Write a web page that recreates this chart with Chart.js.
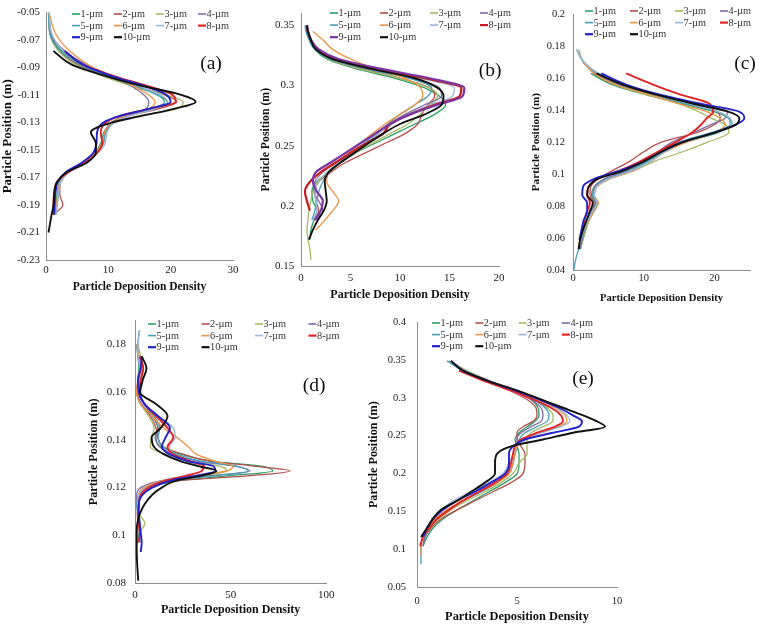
<!DOCTYPE html>
<html>
<head>
<meta charset="utf-8">
<script src="https://cdn.jsdelivr.net/npm/chart.js@4.4.1/dist/chart.umd.min.js"></script>
<style>
  body { margin: 0; background: #fff; }
  #wrap { position: relative; width: 760px; height: 625px; overflow: hidden; background: #fff; }
  #wrap canvas { position: absolute; }
</style>
</head>
<body>
<div id="wrap">
  <canvas id="chart_a" width="250" height="305" style="left:0px;top:0px"></canvas>
  <canvas id="chart_c" width="255" height="305" style="left:505px;top:0px"></canvas>
  <canvas id="chart_b" width="265" height="305" style="left:250px;top:0px"></canvas>
  <canvas id="chart_d" width="260" height="320" style="left:80px;top:305px"></canvas>
  <canvas id="chart_e" width="300" height="320" style="left:340px;top:305px"></canvas>
</div>
<script>
// ---- data ----
const series_labels = ['1-µm', '2-µm', '3-µm', '4-µm', '5-µm', '6-µm', '7-µm', '8-µm', '9-µm', '10-µm'];

// (a) particle position (m), shared by the series of panel a
const pos_a = [-0.05, -0.065, -0.078, -0.088, -0.096, -0.103, -0.109, -0.115, -0.12, -0.125, -0.13,
               -0.137, -0.145, -0.152, -0.159, -0.166, -0.173, -0.182, -0.19, -0.197, -0.21];
const dens_a1 = [0.5, 0.7, 2.6, 5.8, 10, 14, 17.5, 19.5, 17, 13, 10.5, 9.3, 8.8, 7.8, 5.8, 3.4, 2.2, 1.8, 1.6, null, null];
const dens_a2 = [null, 0.6, 2.2, 5.2, 9.5, 14, 18.5, 21, 18, 13.5, 10.8, 9.5, 9.2, 8, 6, 3.6, 2.3, 2.2, 2.7, 1.2, null];
const dens_a3 = [0.4, 0.6, 2, 4.8, 9, 13.5, 18.5, 22, 21, 15, 11, 9.6, 9.2, 8.1, 6, 3.5, 2.3, 2, 1.8, 1.6, null];
const dens_a4 = [0.5, 0.8, 3, 6.5, 10.5, 13.5, 15.5, 16.5, 16, 12.5, 10.5, 9.4, 9, 8, 6, 3.6, 2.4, 2, 1.7, 1.5, null];
const dens_a5 = [0.4, 0.6, 2.3, 5.5, 9.8, 14, 17.5, 19, 17, 13, 10.8, 9.6, 9.2, 8.1, 6, 3.5, 2.2, 1.9, 1.7, 1.5, null];
const dens_a6 = [0.5, 1.5, 3.8, 6.8, 10.5, 13.8, 16.2, 17.5, 16.5, 12.8, 10.6, 9.4, 9, 7.8, 5.8, 3.4, 2.3, 1.9, 1.7, 1.5, null];
const dens_a7 = [0.5, 0.9, 2.8, 6, 10.3, 14.5, 18, 19.5, 17.5, 13.5, 11, 9.8, 9.5, 8.3, 6.2, 3.7, 2.4, 2, 1.8, 1.6, null];
const dens_a8 = [null, null, 3, 6, 10.8, 16, 20, 20.8, 16.5, 12, 9.6, 8.8, 9, 8.2, 6.3, 3.6, 1.8, 1.3, 1.2, 1.1, null];
const dens_a9 = [null, null, 3, 6, 10.5, 15.5, 19, 20, 16.5, 12, 9.2, 8.2, 8.1, 7.6, 5.8, 3.2, 1.9, 1.5, 1.4, 1.3, null];
const dens_a10 = [null, null, 1.2, 4.2, 9.5, 15, 21, 24, 20.5, 15.5, 10.5, 7.2, 8, 8, 6.6, 3.4, 1.8, 1.3, 1.2, 0.9, 0.4];
const x_ticks_a = [0, 10, 20, 30];
const y_ticks_a = [-0.23, -0.21, -0.19, -0.17, -0.15, -0.13, -0.11, -0.09, -0.07, -0.05];

// (b)
const pos_b = [0.35, 0.345, 0.338, 0.33, 0.322, 0.314, 0.306, 0.298, 0.291, 0.284, 0.276, 0.268, 0.26,
               0.252, 0.244, 0.236, 0.228, 0.22, 0.212, 0.204, 0.196, 0.188, 0.18, 0.172, 0.164, 0.155];
const dens_b1 = [null, 0.6, 0.9, 1.4, 2.6, 5.5, 9.5, 12.5, 14, 14.6, 13.5, 11.5, 9.5, 7.5, 5.5, 4, 2.8, 1.6, 1.1, 1.2, 1.6, 1.3, 1, 0.9, null, null];
const dens_b2 = [null, 0.7, 1, 1.6, 3, 6, 10, 13, 13.5, 12.8, 12.2, 11.8, 10.5, 8.5, 6.5, 4.5, 3, 1.8, 1.4, 1.5, 1.8, 1.3, null, null, null, null];
const dens_b3 = [0.5, 0.7, 1, 1.5, 2.8, 5.8, 10, 13, 13.8, 13, 12, 10.8, 9, 7.2, 5.5, 4, 2.7, 1.7, 1.2, 1, 0.8, 0.7, 0.6, 0.7, 0.9, 1];
const dens_b4 = [0.5, 0.6, 0.9, 1.5, 3, 6.5, 11, 14, 14.2, 12.5, 10.5, 9, 7.8, 6.5, 5, 3.5, 2.2, 1.4, 1.3, 1.8, 2.2, 1.5, null, null, null, null];
const dens_b5 = [0.4, 0.5, 0.8, 1.4, 3, 6.5, 11, 13.2, 12.8, 11.5, 10, 8.8, 7.6, 6.4, 5, 3.8, 2.8, 2.2, 1.8, 1.6, 1.4, 1.1, null, null, null, null];
const dens_b6 = [null, 1.2, 2.2, 3.2, 5, 7.5, 10.5, 12.1, 12.3, 11.5, 10, 8.5, 7.2, 6, 4.8, 3.6, 2.8, 2.6, 3.2, 3.8, 3.2, 2.4, 1.5, null, null, null];
const dens_b7 = [0.6, 0.7, 1, 1.6, 3.2, 7, 12, 15.5, 15.3, 13, 10.8, 9.2, 7.8, 6.5, 5.2, 3.8, 2.6, 1.8, 1.4, 1.5, 1.6, 1.2, null, null, null, null];
const dens_b8 = [0.6, 0.7, 1, 1.7, 3.5, 7.5, 12.5, 16.2, 16, 13.5, 11, 9, 8.3, 6.6, 5, 3.5, 2, 0.9, 0.4, 0.6, 0.9, null, null, null, null, null];
const dens_b9 = [0.6, 0.7, 1, 1.8, 3.8, 8, 13, 16.5, 16.3, 13.8, 11, 9, 7.5, 6, 4.5, 3, 1.5, 1.2, 1.6, 2.2, 2, 1.4, null, null, null, null];
const dens_b10 = [0.6, 0.7, 1, 1.5, 3.2, 7, 11.5, 13.8, 14.4, 14.2, 12.5, 10, 8.3, 6.8, 5.4, 4, 2.8, 2.4, 2.5, 2.6, 2.3, 1.7, 1.2, 0.8, null, null];
const x_ticks_b = [0, 5, 10, 15, 20];
const y_ticks_b = [0.15, 0.2, 0.25, 0.3, 0.35];

// (c)
const pos_c = [0.178, 0.17, 0.163, 0.156, 0.15, 0.144, 0.139, 0.135, 0.131, 0.126, 0.12, 0.114, 0.108,
               0.102, 0.097, 0.092, 0.087, 0.082, 0.077, 0.071, 0.065, 0.059, 0.053, 0.047, 0.04];
const dens_c1 = [null, null, 2.5, 5.5, 10, 15.5, 20, 22, 22.5, 20.5, 16, 13, 10.5, 7.5, 4.5, 3, 2.6, 3.2, 2.8, 2.2, 1.8, 1.4, 1, null, null];
const dens_c2 = [null, null, 2.8, 6, 11, 16.5, 20.3, 20.8, 20, 17.5, 12.5, 10, 8, 5.5, 3.5, 2.5, 2.4, 3, 2.6, 2, 1.5, 1.2, 0.9, null, null];
const dens_c3 = [0.8, 1.5, 3, 6, 10, 15, 17.8, 19.5, 21.5, 22, 19, 15.5, 11.5, 8.5, 5, 3.2, 3, 3.5, 3, 2.3, 1.8, 1.4, 1.1, null, null];
const dens_c4 = [null, 1.4, 3.2, 6.5, 11, 17, 21.8, 21.5, 19.5, 17, 14, 12, 10, 7.5, 4.5, 3, 2.8, 3.2, 2.6, 2, 1.6, 1.3, 1, null, null];
const dens_c5 = [0.5, 1.5, 3.5, 6.8, 11, 16, 20.5, 22, 22.2, 19.5, 15, 12.5, 10.5, 8, 4.8, 3.2, 2.8, 3.3, 2.8, 2.2, 1.6, 1.2, 0.8, 0.4, 0.1];
const dens_c6 = [null, 1.5, 3, 6, 10.5, 15, 19, 20.8, 21.5, 20, 16, 13, 11, 8.5, 5.2, 3.4, 3, 3.6, 3, 2.2, 1.5, 1, 0.7, null, null];
const dens_c7 = [0.5, 1.6, 3.6, 7, 11.5, 16.5, 20.5, 22.2, 22.5, 20, 15.5, 13, 11, 8.2, 5, 3.3, 3, 3.4, 2.8, 2.1, 1.5, 1.1, 0.8, null, null];
const dens_c8 = [null, null, 7.5, 11.3, 15, 19.3, 19.8, 18.9, 18.1, 16.8, 14.5, 12, 9.5, 6.5, 3.5, 2.2, 2, 2.4, 2, 1.6, 1.3, 1, null, null, null];
const dens_c9 = [null, null, 4, 7.5, 12, 18, 23.5, 24.2, 23, 20, 15.5, 12.5, 10, 6.5, 3, 1.4, 1.3, 2, 2, 1.5, 1.2, 0.9, null, null, null];
const dens_c10 = [null, null, 3.3, 7, 11.5, 17, 22, 23.5, 23, 20, 15.5, 12.5, 10, 7, 3.5, 2.2, 2, 2.8, 2.4, 1.9, 1.4, 1, 0.8, null, null];
const x_ticks_c = [0, 10, 20];
const y_ticks_c = [0.04, 0.06, 0.08, 0.1, 0.12, 0.14, 0.16, 0.18, 0.2];

// (d)
const pos_d = [0.186, 0.18, 0.175, 0.17, 0.165, 0.16, 0.155, 0.15, 0.145, 0.141, 0.137, 0.134, 0.131, 0.129,
               0.127, 0.125, 0.123, 0.12, 0.117, 0.113, 0.109, 0.105, 0.101, 0.097, 0.093, 0.087, 0.081];
const dens_d1 = [null, 1, 1.5, 2, 1.5, 1.8, 5, 9, 12, 10.5, 14, 24, 40, 66, 72, 50, 24, 8, 3, 1.5, 1.5, 2, 2.5, 2.5, null, null, null];
const dens_d2 = [null, null, 1.5, 3, 2, 1, 3, 8, 11, 12, 15, 25, 40, 62, 81, 60, 24, 5, 2, 1.5, 1.2, 1.5, 2, null, null, null, null];
const dens_d3 = [null, 1.5, 3, 4.5, 2.5, 1.5, 3, 7, 10, 8.5, 8, 16, 28, 44, 48, 35, 15, 5, 2, 1, 2, 5.2, 2.5, 1.5, null, null, null];
const dens_d4 = [null, 1, 1.5, 2.5, 1.5, 1, 3.5, 9, 12, 11, 13, 20, 33, 52, 60, 40, 15, 3, 0.9, 1, 1.5, 2, 2.5, null, null, null, null];
const dens_d5 = [2.3, 1.5, 2, 3, 4, 3, 5, 10, 13, 12, 15, 22, 35, 53, 59, 42, 18, 6, 2, 1, 1.5, 2.5, 2, 1.5, null, null, null];
const dens_d6 = [null, 1, 2, 2.5, 1.5, 0.8, 3, 9, 15, 22, 28, 32, 42, 51, 48, 32, 15, 5, 2, 1.5, 1.5, 2, 2, null, null, null, null];
const dens_d7 = [2.5, 1.5, 1.5, 3, 4, 2, 5, 12, 20, 21, 18, 20, 27, 34, 35, 26, 15, 6, 2, 1.5, 2, 2.5, 2, null, null, null, null];
const dens_d8 = [null, null, 2.5, 4.3, 3, 2, 5, 11, 17, 20, 17, 20, 29, 36, 35, 27, 16, 7, 3, 2, 1.5, 2, 2.5, 2, null, null, null];
const dens_d9 = [null, null, 3.5, 3, 1.5, 2, 5, 12, 18.3, 16, 14, 18, 28, 41, 42, 32, 19, 9, 4, 2, 2, 2.5, 3, 3.5, 3, null, null];
const dens_d10 = [null, null, 3.5, 6, 4, 2.6, 11, 17, 13.5, 8.7, 10, 15, 24, 33, 42.6, 35, 22, 14, 9, 5, 2.5, 1.2, 0.9, 0.9, 0.9, 1.2, 1.7];
const x_ticks_d = [0, 50, 100];
const y_ticks_d = [0.08, 0.1, 0.12, 0.14, 0.16, 0.18];

// (e)
const pos_e = [0.349, 0.336, 0.322, 0.31, 0.298, 0.287, 0.277, 0.269, 0.262, 0.254, 0.245, 0.236, 0.226,
               0.214, 0.2, 0.188, 0.176, 0.164, 0.152, 0.14, 0.128, 0.116, 0.104, 0.092, 0.08];
const dens_e1 = [null, 2.2, 3.6, 4.8, 5.7, 6.05, 6.1, 5.9, 5.5, 5.1, 4.9, 5, 5.1, 5.1, 5, 4.4, 3.6, 2.8, 2, 1.3, 0.8, 0.5, 0.3, null, null];
const dens_e2 = [null, 2.1, 3.5, 4.6, 5.5, 5.95, 6, 5.8, 5.3, 5, 5, 5.2, 5.4, 5.4, 5.3, 4.7, 3.8, 2.9, 2, 1.2, 0.7, 0.4, 0.3, null, null];
const dens_e3 = [1.6, 2.5, 3.7, 4.9, 5.9, 6.5, 6.8, 6.8, 6.3, 5.7, 5.5, 5.5, 5.5, 5.1, 4.8, 4.2, 3.4, 2.5, 1.7, 1.1, 0.6, 0.4, 0.3, null, null];
const dens_e4 = [1.7, 2.4, 3.6, 4.8, 5.7, 6.2, 6.3, 6.2, 5.7, 5.2, 5, 5, 4.9, 4.8, 4.6, 4, 3.2, 2.3, 1.6, 1, 0.6, 0.4, 0.3, null, null];
const dens_e5 = [1.5, 2.3, 3.6, 4.8, 5.8, 6.4, 6.6, 6.5, 6, 5.4, 5.1, 5, 4.9, 4.8, 4.6, 4, 3.2, 2.3, 1.5, 0.9, 0.5, 0.3, 0.2, 0.2, 0.2];
const dens_e6 = [null, 2.3, 3.7, 4.9, 6, 6.9, 7.4, 7.5, 7.1, 6.2, 5.3, 5, 4.9, 4.8, 4.6, 4, 3.1, 2.2, 1.5, 0.9, 0.5, 0.3, 0.2, 0.2, null];
const dens_e7 = [1.7, 2.4, 3.7, 5, 6.1, 7, 7.5, 7.65, 7.2, 6.2, 5.2, 4.9, 4.8, 4.6, 4.3, 3.6, 2.7, 1.8, 1.2, 0.7, null, null, null, null, null];
const dens_e8 = [null, 2.1, 3.4, 4.7, 5.8, 6.7, 7.2, 7.3, 6.9, 6, 5.2, 4.9, 4.8, 4.7, 4.5, 3.9, 3.1, 2.3, 1.6, 1, 0.6, 0.3, 0.15, null, null];
const dens_e9 = [1.7, 2.3, 3.6, 4.9, 6.1, 7.1, 7.8, 8.25, 8.1, 6.8, 5.4, 4.8, 4.6, 4.6, 4.4, 3.7, 2.9, 2, 1.3, 0.8, 0.5, 0.3, null, null, null];
const dens_e10 = [1.7, 2.3, 3.6, 5, 6.2, 7.3, 8.3, 9, 9.4, 7.8, 6.3, 4.7, 4, 3.9, 3.9, 3.4, 2.7, 2, 1.2, 0.8, 0.5, 0.2, null, null, null];
const x_ticks_e = [0, 5, 10];
const y_ticks_e = [0.05, 0.1, 0.15, 0.2, 0.25, 0.3, 0.35, 0.4];

// ---- styles ----
const serif = '"Liberation Serif", "Times New Roman", serif';
const base_colors = ['#2aa067', '#b5504c', '#a7b965', '#7f69a6', '#45a0b4', '#ee9445', '#9ab7d9', '#e12525', '#2222cc', '#111111'];
const colors_b = ['#2aa067', '#b5504c', '#a7b965', '#7f69a6', '#45a0b4', '#ee9445', '#9ab7d9', '#c41c22', '#7b35a3', '#111111'];
const line_widths = [1.3, 1.3, 1.3, 1.3, 1.3, 1.3, 1.3, 1.9, 1.9, 1.9];

// build {x, y} points, skipping the positions a series does not reach
function make_points(pos, dens) {
  const pts = [];
  for (let i = 0; i < pos.length; i++) {
    if (dens[i] !== null) pts.push({x: dens[i], y: pos[i]});
  }
  return pts;
}

function make_panel(canvas_id, p) {
  const ctx = document.getElementById(canvas_id).getContext('2d');

  const datasets = p.series.map((dens, i) => ({
    label: series_labels[i],
    data: make_points(p.pos, dens),
    borderColor: p.colors[i],
    borderWidth: p.widths[i],
    pointRadius: 0,
    pointHoverRadius: 0,
    fill: false,
    cubicInterpolationMode: 'monotone',
    order: 10 - i,   // 10-µm drawn on top
  }));

  // legend and panel letter drawn inside the plot, like the original figure
  const deco = {
    id: 'deco_' + canvas_id,
    afterDraw(chart) {
      const c = chart.ctx;
      c.save();
      c.font = p.legend.size + 'px ' + serif;
      c.textBaseline = 'middle';
      c.textAlign = 'left';
      datasets.forEach((ds, i) => {
        const x = p.legend.x + (i % 4) * p.legend.dx;
        const y = p.legend.y + Math.floor(i / 4) * p.legend.dy;
        c.strokeStyle = ds.borderColor;
        c.lineWidth = i >= 7 ? 2.2 : 1.6;
        c.beginPath();
        c.moveTo(x, y);
        c.lineTo(x + 8, y);
        c.stroke();
        c.fillStyle = '#333';
        c.fillText(ds.label, x + 8.5, y + 0.5);
      });
      c.font = p.letter.size + 'px ' + serif;
      c.textAlign = 'center';
      c.fillStyle = '#111';
      c.fillText(p.letter.text, p.letter.x, p.letter.y);
      c.restore();
    }
  };

  return new Chart(ctx, {
    type: 'line',
    data: { datasets: datasets },
    options: {
      indexAxis: 'y',
      responsive: false,
      animation: false,
      events: [],
      layout: { padding: { left: 0, right: p.pad_right, top: p.pad_top, bottom: 0 } },
      scales: {
        x: {
          type: 'linear',
          min: p.x_min, max: p.x_max,
          afterBuildTicks: (s) => { s.ticks = p.x_ticks.map(v => ({value: v})); },
          afterFit: (s) => { s.height = p.x_h; },
          grid: { display: false, drawTicks: false },
          border: { color: '#8c8c8c', width: 1 },
          ticks: {
            autoSkip: false, maxRotation: 0, padding: p.x_tick_pad, color: '#222',
            font: { family: serif, size: p.tick_size },
            callback: (v) => String(v)
          },
          title: {
            display: true, text: 'Particle Deposition Density', color: '#111',
            font: { family: serif, size: p.x_title_size, weight: 'bold' },
            padding: { top: 0, bottom: p.x_title_pad }
          }
        },
        y: {
          type: 'linear',
          min: p.y_min, max: p.y_max,
          afterBuildTicks: (s) => { s.ticks = p.y_ticks.map(v => ({value: v})); },
          afterFit: (s) => { s.width = p.y_w; },
          grid: { display: false, drawTicks: false },
          border: { color: '#8c8c8c', width: 1 },
          ticks: {
            autoSkip: false, padding: p.y_tick_pad, color: '#222',
            font: { family: serif, size: p.tick_size },
            callback: p.y_fmt
          },
          title: {
            display: true, text: 'Particle Position (m)', color: '#111',
            font: { family: serif, size: p.y_title_size, weight: 'bold' },
            padding: { top: p.y_title_pad, bottom: 0 }
          }
        }
      },
      plugins: {
        legend: { display: false },
        tooltip: { enabled: false }
      }
    },
    plugins: [deco]
  });
}

const plain_fmt = (v) => String(v);

// (a)
make_panel('chart_a', {
  pos: pos_a,
  series: [dens_a1, dens_a2, dens_a3, dens_a4, dens_a5, dens_a6, dens_a7, dens_a8, dens_a9, dens_a10],
  colors: base_colors, widths: line_widths,
  x_min: 0, x_max: 30, x_ticks: x_ticks_a,
  y_min: -0.23, y_max: -0.05, y_ticks: y_ticks_a, y_fmt: (v) => v.toFixed(2),
  pad_right: 17, pad_top: 7, y_w: 46, x_h: 45,
  tick_size: 11, x_tick_pad: 3.5, y_tick_pad: 6,
  x_title_size: 11.5, x_title_pad: 11, y_title_size: 13, y_title_pad: 0,
  legend: { x: 72, y: 14, dx: 42, dy: 11.6, size: 10.3 },
  letter: { text: '(a)', x: 211, y: 64, size: 19.5 }
});

// (b)
make_panel('chart_b', {
  pos: pos_b,
  series: [dens_b1, dens_b2, dens_b3, dens_b4, dens_b5, dens_b6, dens_b7, dens_b8, dens_b9, dens_b10],
  colors: colors_b, widths: [1.3, 1.3, 1.3, 1.3, 1.3, 1.3, 1.3, 2.2, 2.2, 1.9],
  x_min: 0, x_max: 20, x_ticks: x_ticks_b,
  y_min: 0.15, y_max: 0.36, y_ticks: y_ticks_b, y_fmt: plain_fmt,
  pad_right: 16, pad_top: 5, y_w: 51, x_h: 39,
  tick_size: 11, x_tick_pad: 5.4, y_tick_pad: 6.7,
  x_title_size: 12, x_title_pad: 2.8, y_title_size: 11.8, y_title_pad: 9,
  legend: { x: 80, y: 13, dx: 50, dy: 12.1, size: 10.3 },
  letter: { text: '(b)', x: 240, y: 71, size: 19.5 }
});

// (c)
make_panel('chart_c', {
  pos: pos_c,
  series: [dens_c1, dens_c2, dens_c3, dens_c4, dens_c5, dens_c6, dens_c7, dens_c8, dens_c9, dens_c10],
  colors: base_colors, widths: line_widths,
  x_min: 0, x_max: 25, x_ticks: x_ticks_c,
  y_min: 0.04, y_max: 0.2, y_ticks: y_ticks_c, y_fmt: plain_fmt,
  pad_right: 10, pad_top: 7, y_w: 68, x_h: 35,
  tick_size: 10.5, x_tick_pad: 1.7, y_tick_pad: 8,
  x_title_size: 10.6, x_title_pad: 0.3, y_title_size: 11.2, y_title_pad: 24,
  legend: { x: 80, y: 11, dx: 45, dy: 11.6, size: 10.3 },
  letter: { text: '(c)', x: 240, y: 64, size: 19.5 }
});

// (d)
make_panel('chart_d', {
  pos: pos_d,
  series: [dens_d1, dens_d2, dens_d3, dens_d4, dens_d5, dens_d6, dens_d7, dens_d8, dens_d9, dens_d10],
  colors: base_colors, widths: line_widths,
  x_min: 0, x_max: 100, x_ticks: x_ticks_d,
  y_min: 0.08, y_max: 0.19, y_ticks: y_ticks_d, y_fmt: plain_fmt,
  pad_right: 11, pad_top: 14, y_w: 55, x_h: 42,
  tick_size: 11, x_tick_pad: 5.4, y_tick_pad: 9,
  x_title_size: 12, x_title_pad: 7.8, y_title_size: 12.2, y_title_pad: 6.5,
  legend: { x: 68, y: 19, dx: 53.5, dy: 11.6, size: 10.3 },
  letter: { text: '(d)', x: 234, y: 81, size: 19.5 }
});

// (e)
make_panel('chart_e', {
  pos: pos_e,
  series: [dens_e1, dens_e2, dens_e3, dens_e4, dens_e5, dens_e6, dens_e7, dens_e8, dens_e9, dens_e10],
  colors: base_colors, widths: line_widths,
  x_min: 0, x_max: 10, x_ticks: x_ticks_e,
  y_min: 0.05, y_max: 0.4, y_ticks: y_ticks_e, y_fmt: plain_fmt,
  pad_right: 23, pad_top: 14, y_w: 77, x_h: 38,
  tick_size: 10.5, x_tick_pad: 8.4, y_tick_pad: 11,
  x_title_size: 12.4, x_title_pad: 1, y_title_size: 12.2, y_title_pad: 27,
  legend: { x: 92, y: 18, dx: 43.3, dy: 11.6, size: 10.3 },
  letter: { text: '(e)', x: 243, y: 74, size: 19.5 }
});
</script>
</body>
</html>
